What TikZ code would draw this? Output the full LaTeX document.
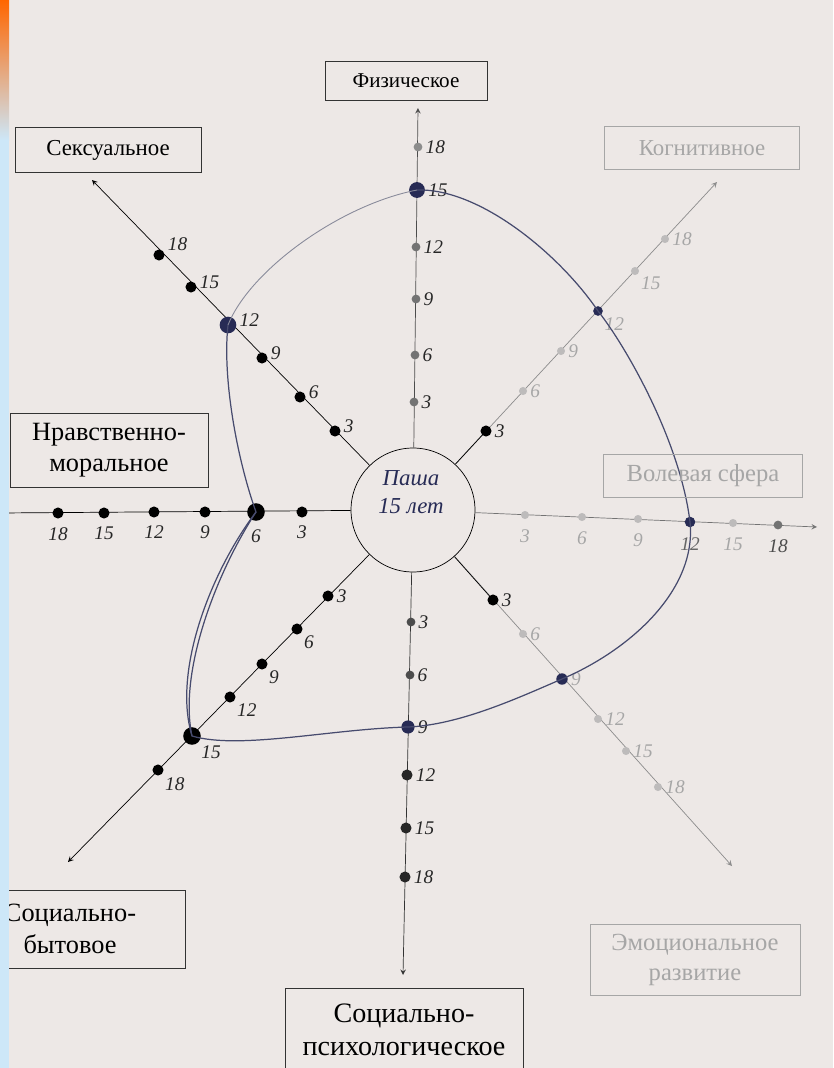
\documentclass[tikz,border=0pt]{standalone}
\usepackage{fontspec}
\setmainfont{Liberation Serif}
\usepackage{xcolor}
\usepackage{tikz}
\usetikzlibrary{calc}
\definecolor{paper}{HTML}{EDE8E6}
\definecolor{ink}{HTML}{272B55}
\definecolor{pencil}{HTML}{55586E}
\definecolor{strip}{HTML}{CDE7F8}
\definecolor{fade}{HTML}{BDBBBB}

\begin{document}
\begin{tikzpicture}[x=0.02cm, y=-0.02cm,
  box/.style={draw=black!80, thin, align=center, inner sep=0pt},
  fadebox/.style={draw=black!35, thin, text=black!35, align=center, inner sep=0pt},
  axis/.style={black, thin, -stealth},
  dot/.style={circle, fill=black, inner sep=0pt, minimum size=6.3pt},
  greydot/.style={circle, fill=black!55, inner sep=0pt, minimum size=5pt},
  palenode/.style={circle, fill=fade, inner sep=0pt, minimum size=4.6pt},
  bigdot/.style={circle, fill=ink, inner sep=0pt, minimum size=9pt},
  num/.style={font=\fontsize{11}{11}\selectfont\itshape, text=black!85, inner sep=1.5pt},
  palenum/.style={font=\fontsize{11}{11}\selectfont\itshape, text=black!35, inner sep=1.5pt},
  profile/.style={ink!85, line width=0.7pt}
]
  \fill[paper] (0,0) rectangle (833,1068);
  \useasboundingbox (0,0) rectangle (833,1068);

  \node[circle, draw=black, thin, minimum size=2.48cm] (ctr) at (413,510) {};
  \node[align=center, text=ink, font=\fontsize{13}{16}\selectfont\itshape] (name) at (411,492) {Паша\\15 лет};

  \coordinate (tipN) at (418,108);
  \coordinate (tipS) at (403,975);
  \coordinate (tipW) at (0,513);
  \coordinate (tipE) at (817,527);
  \coordinate (tipNW) at (92,180);
  \coordinate (tipNE) at (717,182);
  \coordinate (tipSW) at (68,862);
  \coordinate (tipSE) at (732,866);

  \draw[axis, black!70] (ctr) -- (tipN);
  \draw[axis, black!80] (ctr) -- (tipS);
  \draw[black, thin] (ctr) -- (tipW);
  \draw[axis, black!55] (ctr) -- (tipE);
  \draw[axis] (ctr) -- (tipNW);
  \draw[axis, black!45] (ctr) -- (tipNE);
  \draw[axis] (ctr) -- (tipSW);
  \draw[axis, black!45] (ctr) -- (tipSE);

  \node[greydot, label={[num]right:3}] (f3) at (414,402) {};
  \node[greydot, label={[num]right:6}] (f6) at (415,355) {};
  \node[greydot, label={[num]right:9}] (f9) at (416,299) {};
  \node[greydot, label={[num]right:12}] (f12) at (416,247) {};
  \node[greydot, fill=black!45, label={[num]right:18}] (f18) at (418,147) {};

  \node[greydot, fill=black!70, label={[num]right:3}] (s3) at (411,622) {};
  \node[greydot, fill=black!70, label={[num]right:6}] (s6) at (410,675) {};
  \node[dot, fill=black!85, label={[num]right:12}] (s12) at (407,775) {};
  \node[dot, fill=black!85, label={[num]right:15}] (s15) at (406,828) {};
  \node[dot, fill=black!85, label={[num]right:18}] (s18) at (405,877) {};

  \node[dot, label={[num, yshift=-3pt]below:3}] (w3) at (302,512) {};
  \node[dot, label={[num, yshift=-3pt]below:9}] (w9) at (205,512) {};
  \node[dot, label={[num, yshift=-3pt]below:12}] (w12) at (154,512) {};
  \node[dot, label={[num, yshift=-3pt]below:15}] (w15) at (104,513) {};
  \node[dot, label={[num, yshift=-3pt]below:18}] (w18) at (58,513) {};

  \node[palenode, label={[palenum, yshift=-4pt]below:3}] (e3) at (525,515) {};
  \node[palenode, label={[palenum, yshift=-4pt]below:6}] (e6) at (582,517) {};
  \node[palenode, label={[palenum, yshift=-4pt]below:9}] (e9) at (638,519) {};
  \node[palenode, label={[palenum, yshift=-4pt]below:15}] (e15) at (733,523) {};
  \node[greydot, label={[palenum, text=black!70, yshift=-4pt]below:18}] (e18) at (778,525) {};

  \node[dot, label={[num, yshift=3pt]right:3}] (n3) at (335,431) {};
  \node[dot, label={[num, yshift=3pt]right:6}] (n6) at (300,397) {};
  \node[dot, label={[num, yshift=3pt]right:9}] (n9) at (262,358) {};
  \node[dot, label={[num, yshift=3pt]right:15}] (n15) at (191,287) {};
  \node[dot, label={[num, yshift=6pt]right:18}] (n18) at (159,255) {};

  \draw[black, thin] (ctr) -- (486,431);
  \node[dot, label={[num]right:3}] (ne3) at (486,431) {};
  \node[palenode, label={[palenum]right:6}] (ne6) at (523,391) {};
  \node[palenode, label={[palenum]right:9}] (ne9) at (561,351) {};
  \node[palenode, label={[palenum]below right:15}] (ne15) at (635,271) {};
  \node[palenode, label={[palenum]right:18}] (ne18) at (665,239) {};

  \node[dot, label={[num]right:3}] (sw3) at (328,596) {};
  \node[dot, label={[num]below right:6}] (sw6) at (297,629) {};
  \node[dot, label={[num]below right:9}] (sw9) at (262,664) {};
  \node[dot, label={[num]below right:12}] (sw12) at (230,697) {};
  \node[dot, label={[num]below right:18}] (sw18) at (158,770) {};

  \draw[black, thin] (ctr) -- (493,600);
  \node[dot, label={[num]right:3}] (se3) at (493,600) {};
  \node[palenode, label={[palenum]right:6}] (se6) at (523,634) {};
  \node[palenode, label={[palenum]right:12}] (se12) at (598,719) {};
  \node[palenode, label={[palenum]right:15}] (se15) at (626,751) {};
  \node[palenode, label={[palenum]right:18}] (se18) at (658,787) {};

  \node[bigdot, label={[num]right:15}] (f15) at (417,190) {};
  \node[bigdot, minimum size=5.5pt, label={[palenum]below right:12}] (ne12) at (598,311) {};
  \node[bigdot, minimum size=6pt, label={[palenum, text=black!60, yshift=-4pt]below:12}] (e12) at (690,522) {};
  \node[bigdot, minimum size=6.5pt, label={[palenum]right:9}] (se9) at (562,679) {};
  \node[bigdot, minimum size=7.5pt, label={[num]right:9}] (s9) at (408,727) {};
  \node[bigdot, minimum size=10pt, fill=black, label={[num]below right:15}] (sw15) at (192,736) {};
  \node[bigdot, minimum size=10pt, fill=black, label={[num, yshift=-3pt]below:6}] (w6) at (256,512) {};
  \node[bigdot, minimum size=9.5pt, label={[num, yshift=3pt]right:12}] (n12) at (228,325) {};

  \draw[profile] (ne12.center) .. controls (625,345) and (680,440) .. (e12.center)
    .. controls (697,590) and (630,650) .. (se9.center)
    .. controls (520,697) and (460,725) .. (s9.center)
    .. controls (330,729) and (240,750) .. (sw15.center)
    .. controls (172,670) and (212,570) .. (w6.center)
    .. controls (238,462) and (222,380) .. (n12.center);
  \draw[profile] (sw15.center) .. controls (178,670) and (218,570) .. (w6.center);
  \draw[pencil!70, line width=0.5pt] (n12.center) .. controls (250,270) and (340,205) .. (f15.center);
  \draw[profile] (f15.center) .. controls (480,188) and (560,255) .. (ne12.center);

  \node[box, minimum width=3.24cm, minimum height=0.78cm, font=\fontsize{12}{14}\selectfont] (fiz) at (406,81) {Физическое};
  \node[box, minimum width=3.72cm, minimum height=0.9cm, font=\fontsize{13}{15}\selectfont] (sex) at (108,150) {Сексуальное};
  \node[fadebox, minimum width=3.9cm, minimum height=0.86cm, font=\fontsize{13}{15}\selectfont] (cog) at (702,148) {Когнитивное};
  \node[box, minimum width=3.96cm, minimum height=1.48cm, font=\fontsize{15}{18}\selectfont] (nrav) at (109,450) {Нравственно-\\моральное};
  \node[fadebox, minimum width=3.98cm, minimum height=0.86cm, font=\fontsize{14}{16}\selectfont] (vol) at (703,476) {Волевая сфера};
  \node[box, minimum width=4.6cm, minimum height=1.56cm, font=\fontsize{15}{18}\selectfont] (sbyt) at (70,929) {Социально-\\бытовое};
  \node[fadebox, minimum width=4.2cm, minimum height=1.42cm, font=\fontsize{14}{17}\selectfont] (emo) at (695,960) {Эмоциональное\\развитие};
  \node[box, minimum width=4.76cm, minimum height=1.68cm, font=\fontsize{16}{19}\selectfont] (spsy) at (404,1030) {Социально-\\психологическое};

  \fill[strip] (0,0) rectangle (9,1068);
  \shade[top color=orange!80!red, bottom color=strip] (0,0) rectangle (9,140);
\end{tikzpicture}
\end{document}
